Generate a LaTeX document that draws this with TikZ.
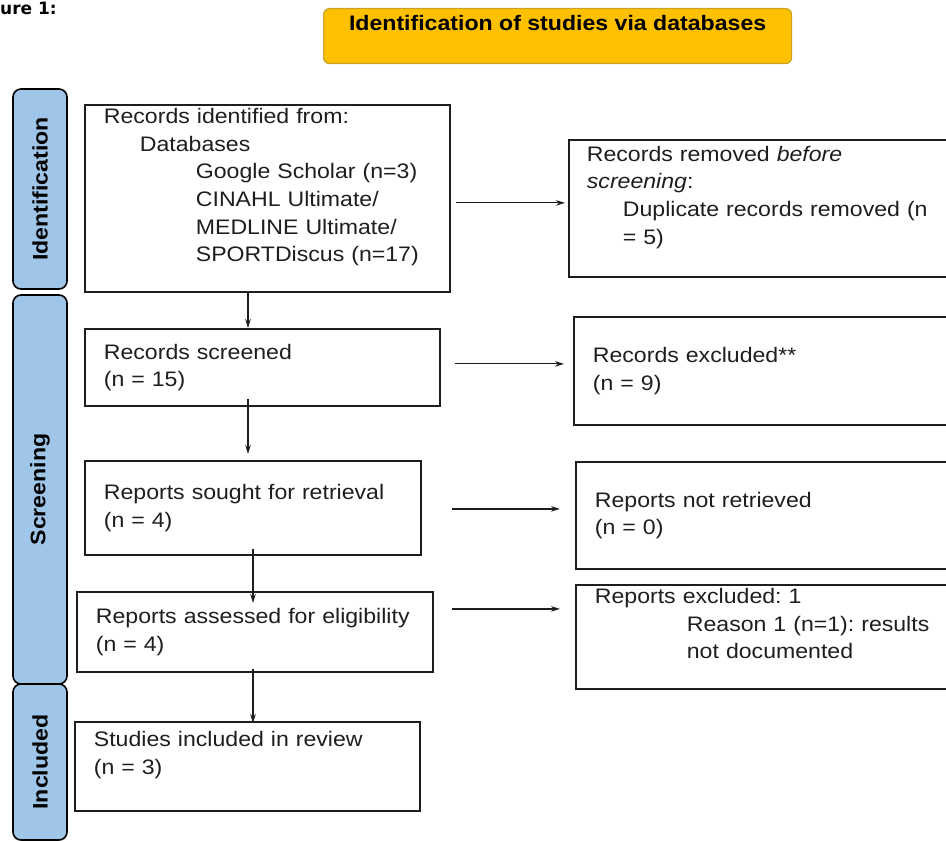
\documentclass[tikz,border=0pt]{standalone}
\usepackage{fontspec}
\setmainfont{Liberation Sans}[FakeStretch=1.1]
\newfontfamily\figfont{DejaVu Sans}
\usetikzlibrary{arrows.meta, calc}
\frenchspacing

\definecolor{phaseblue}{HTML}{9FC5E8}
\definecolor{headgold}{HTML}{FFC000}
\definecolor{headedge}{HTML}{C9A227}
\definecolor{inkgray}{HTML}{1E1E1E}

\tikzset{
  flowbox/.style = {draw=inkgray, line width=1.8pt, rectangle, anchor=north west,
    align=left, inner ysep=0pt, text=inkgray, font=\fontsize{21}{27.6}\selectfont},
  phase/.style = {draw=black, line width=1.6pt, fill=phaseblue, rounded corners=8pt,
    rotate=90, minimum height=54pt, font=\bfseries\fontsize{21}{24}\selectfont},
  headbox/.style = {draw=headedge, line width=1.2pt, fill=headgold, rounded corners=6pt,
    anchor=north west, minimum width=468pt, minimum height=55pt, text depth=27pt,
    font=\bfseries\fontsize{21}{24}\selectfont},
  flow/.style = {-{Stealth[length=9pt, width=5.5pt]}, line width=1.2pt, draw=inkgray},
}

\begin{document}
\begin{tikzpicture}[x=1pt, y=-1pt]
\useasboundingbox (0,0) rectangle (946,842);

\node[anchor=base west, inner sep=0pt, font=\figfont\bfseries\fontsize{17}{20}\selectfont] (figlabel) at (0,15) {ure 1:};

% header
\node[headbox] (head) at (323,8) {Identification of studies via databases};

% phases
\node[phase, minimum width=200pt] (idphase) at (40,189) {Identification};
\node[phase, minimum width=389pt] (scphase) at (40,489.5) {Screening};
\node[phase, minimum width=156pt] (inphase) at (40,762) {Included};

% main column
\node[flowbox, text width=327pt, inner xsep=19pt, minimum height=187pt] (b1) at (84,104)
  {Records identified from:\\
   \hspace*{36pt}Databases\\
   \hspace*{92pt}Google Scholar (n=3)\\
   \hspace*{92pt}CINAHL Ultimate/\\
   \hspace*{92pt}MEDLINE Ultimate/\\
   \hspace*{92pt}SPORTDiscus (n=17)\\[-1pt]~};
\node[flowbox, text width=317pt, inner xsep=19pt, minimum height=77pt] (b2) at (84,328)
  {Records screened\\(n = 15)};
\node[flowbox, text width=298pt, inner xsep=19pt, minimum height=94pt] (b3) at (84,460)
  {Reports sought for retrieval\\(n = 4)};
\node[flowbox, text width=318pt, inner xsep=19pt, minimum height=80pt] (b4) at (76,591)
  {Reports assessed for eligibility\\(n = 4)};
\node[flowbox, text width=307pt, inner xsep=19pt, minimum height=89pt] (b5) at (74,721)
  {Studies included in review\\(n = 3)\\[-1pt]~};

% side column
\node[flowbox, text width=366pt, inner xsep=18pt, minimum height=137pt] (r1) at (568,139)
  {Records removed \textit{before}\\
   \textit{screening}:\\
   \hspace*{36pt}Duplicate records removed (n\\
   \hspace*{36pt}= 5)\\[-1pt]~};
\node[flowbox, text width=359pt, inner xsep=19pt, minimum height=108pt] (r2) at (573,316)
  {Records excluded**\\(n = 9)};
\node[flowbox, text width=357pt, inner xsep=19pt, minimum height=107pt] (r3) at (575,461)
  {Reports not retrieved\\(n = 0)};
\node[flowbox, text width=357pt, inner xsep=19pt, minimum height=104pt] (r4) at (575,584)
  {Reports excluded: 1\\
   \hspace*{92pt}Reason 1 (n=1): results\\
   \hspace*{92pt}not documented\\[-1pt]~};

% downward flow
\draw[flow] ([xshift=164pt]b1.south west) -- ([xshift=164pt]b2.north west);
\draw[flow, shorten <=-8pt, shorten >=6pt] ([xshift=164pt]b2.south west) -- ([xshift=164pt]b3.north west);
\draw[flow, shorten <=-7pt, shorten >=-12pt] ([xshift=169pt]b3.south west) -- ([xshift=177pt]b4.north west);
\draw[flow, shorten <=-4pt, shorten >=-2pt] ([xshift=177pt]b4.south west) -- ([xshift=179pt]b5.north west);

% sideways flow
\draw[flow, shorten <=5pt, shorten >=3pt] ([yshift=-4.5pt]b1.east) -- ([yshift=-4.5pt]b1.east -| r1.west);
\draw[flow, shorten <=14pt, shorten >=9pt] ([yshift=3.5pt]b2.east) -- ([yshift=3.5pt]b2.east -| r2.west);
\draw[flow, shorten <=30pt, shorten >=15pt] ([yshift=-1pt]b3.east) -- ([yshift=-1pt]b3.east -| r3.west);
\draw[flow, shorten <=18pt, shorten >=15pt] ([yshift=23pt]b4.east) -- ([yshift=23pt]b4.east -| r4.west);
\end{tikzpicture}
\end{document}
